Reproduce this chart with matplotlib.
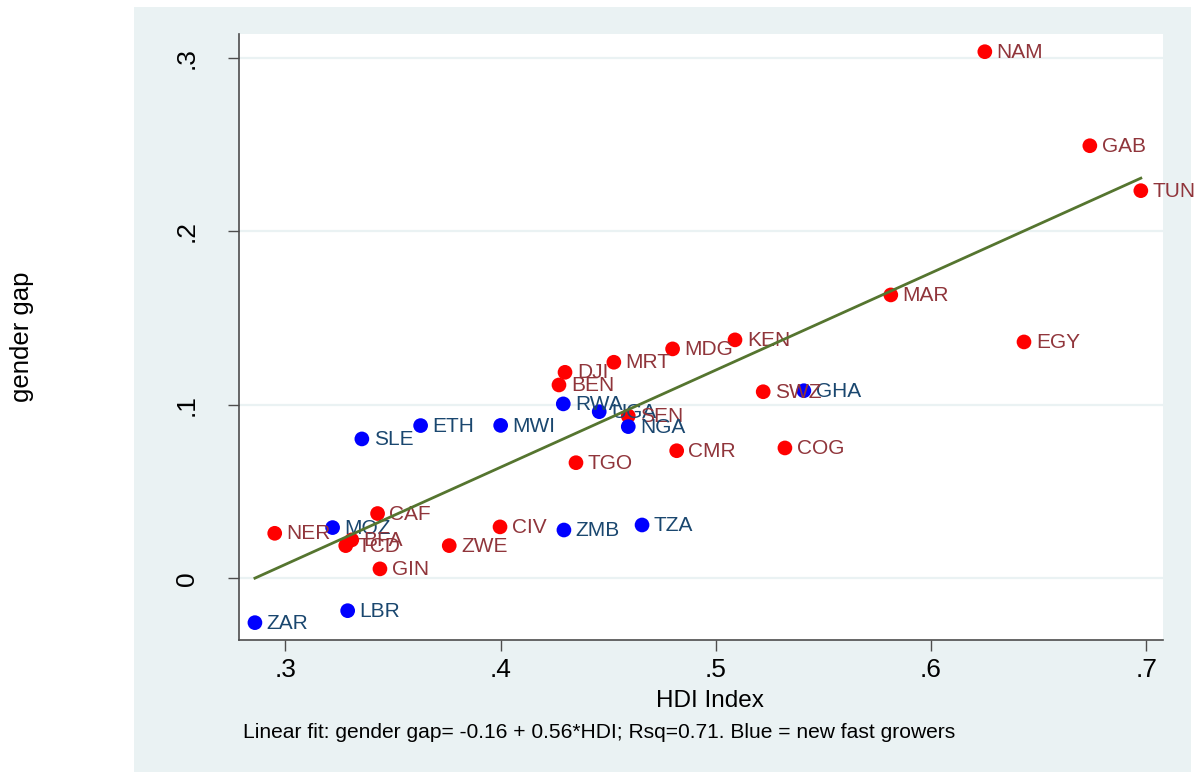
import matplotlib
matplotlib.use("Agg")
import matplotlib.pyplot as plt
from matplotlib.patches import Rectangle
import numpy as np

plt.rcParams['font.family'] = ['Liberation Sans', 'DejaVu Sans']

# countries, HDI index and gender gap
countries = ['NAM', 'GAB', 'TUN', 'MAR', 'EGY', 'KEN', 'MDG', 'MRT', 'DJI', 'BEN',
             'GHA', 'SWZ', 'RWA', 'UGA', 'SEN', 'NGA', 'ETH', 'MWI', 'SLE', 'CMR',
             'COG', 'TGO', 'CAF', 'NER', 'MOZ', 'BFA', 'TCD', 'ZWE', 'CIV', 'ZMB',
             'TZA', 'GIN', 'LBR', 'ZAR']
hdi = [0.6250, 0.6738, 0.6975, 0.5813, 0.6432, 0.5089, 0.4799, 0.4526, 0.4299, 0.4271,
       0.5409, 0.5220, 0.4291, 0.4458, 0.4593, 0.4593, 0.3628, 0.4000, 0.3355, 0.4818,
       0.5321, 0.4350, 0.3428, 0.2950, 0.3219, 0.3308, 0.3280, 0.3761, 0.3997, 0.4294,
       0.4657, 0.3439, 0.3289, 0.2858]
gap = [0.3035, 0.2493, 0.2234, 0.1633, 0.1362, 0.1374, 0.1322, 0.1245, 0.1187, 0.1114,
       0.1081, 0.1075, 0.1005, 0.0960, 0.0935, 0.0874, 0.0880, 0.0881, 0.0803, 0.0735,
       0.0751, 0.0666, 0.0373, 0.0259, 0.0292, 0.0221, 0.0188, 0.0188, 0.0296, 0.0278,
       0.0307, 0.0054, -0.0187, -0.0256]
# new fast growers
fast = ['GHA', 'RWA', 'UGA', 'NGA', 'ETH', 'MWI', 'SLE', 'MOZ', 'ZMB', 'TZA', 'LBR', 'ZAR']

# linear fit coefficients
intercept = -0.16
slope = 0.56

W, H = 1196, 772
fig = plt.figure(figsize=(W / 100, H / 100), dpi=100)
fig.patch.set_facecolor('white')
fig.add_artist(Rectangle((134 / W, 0), (1191 - 134) / W, 1 - 7 / H,
                         transform=fig.transFigure, facecolor='#EAF2F3',
                         edgecolor='none', zorder=0))

ax = fig.add_axes([239 / W, 1 - 640 / H, (1163 - 239) / W, (640 - 34) / H])
ax.set_facecolor('white')

for c, x, y in zip(countries, hdi, gap):
    if c in fast:
        mc, tc = '#0000FF', '#1A476F'
    else:
        mc, tc = '#FF0000', '#90353B'
    ax.scatter(x, y, s=112, color=mc, edgecolors='none', zorder=3)
    ax.annotate(c, (x, y), xytext=(8.5, -0.5), textcoords='offset points',
                va='center', ha='left', fontsize=15, color=tc, zorder=4)

xs = np.array([min(hdi), max(hdi)])
ax.plot(xs, intercept + slope * xs, color='#55752F', lw=2, zorder=5)

ax.set_xlim(0.2784, 0.7078)
ax.set_ylim(-0.0356, 0.3137)
ax.set_xticks([0.3, 0.4, 0.5, 0.6, 0.7])
ax.set_xticklabels(['.3', '.4', '.5', '.6', '.7'])
ax.set_yticks([0, 0.1, 0.2, 0.3])
ax.set_yticklabels(['0', '.1', '.2', '.3'], rotation=90, va='center')

ax.yaxis.grid(True, color='#EAF2F3', lw=1.6)
ax.set_axisbelow(True)
for s in ['top', 'right']:
    ax.spines[s].set_visible(False)
for s in ['left', 'bottom']:
    ax.spines[s].set_color('#4d4d4d')
    ax.spines[s].set_linewidth(1.2)
ax.tick_params(axis='both', direction='out', length=8, width=1, color='#4d4d4d',
               labelsize=19)
ax.tick_params(axis='x', pad=5)
ax.tick_params(axis='y', pad=21)

ax.set_xlabel('HDI Index', fontsize=17.5, va='baseline')
ax.xaxis.set_label_coords((710 - 239) / 924, (640 - 707) / 606)
ax.set_ylabel('gender gap', fontsize=18.5, va='center')
ax.yaxis.set_label_coords((22.5 - 239) / 924, 0.5)

fig.text(243 / W, 1 - 738 / H,
         'Linear fit: gender gap= -0.16 + 0.56*HDI; Rsq=0.71. Blue = new fast growers',
         fontsize=15.1, va='baseline', ha='left')

fig.savefig('out.png', dpi=100, facecolor=fig.get_facecolor())
